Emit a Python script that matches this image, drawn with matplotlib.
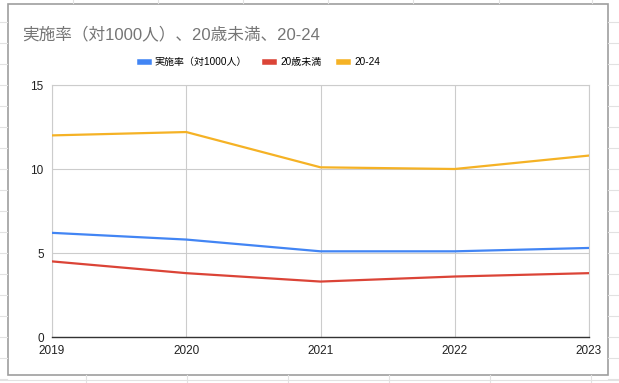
import matplotlib
matplotlib.use("Agg")
import matplotlib.pyplot as plt
from matplotlib.lines import Line2D
from matplotlib.patches import Rectangle

plt.rcParams['font.family'] = ['Liberation Sans', 'Noto Sans CJK JP', 'DejaVu Sans']

years = [2019, 2020, 2021, 2022, 2023]
rate_total = [6.2, 5.8, 5.1, 5.1, 5.3]
under20 = [4.5, 3.8, 3.3, 3.6, 3.8]
age20_24 = [12.0, 12.2, 10.1, 10.0, 10.8]
series_names = ["実施率（対1000人）", "20歳未満", "20-24"]
colors = ["#4285F4", "#DB4437", "#F5B225"]
title = "実施率（対1000人）、20歳未満、20-24"

W, H = 619, 383
fig = plt.figure(figsize=(W / 100, H / 100), dpi=100)

def px(x, y):
    return x / W, 1 - y / H

# spreadsheet background grid (outside chart)
gcol = "#e2e2e2"
for y in range(22, 383, 21):
    for (x0, x1) in [(0, 7), (608, 619)]:
        (a, b), (c, d) = px(x0, y), px(x1, y)
        fig.add_artist(Line2D([a, c], [b, b], color=gcol, lw=0.8))
for x in [73, 158, 243, 328, 413, 499, 592]:
    (a, b), (c, d) = px(x, 0), px(x, 3)
    fig.add_artist(Line2D([a, a], [b, d], color=gcol, lw=0.8))
for x in [86, 187, 288, 389, 490, 591]:
    (a, b), (c, d) = px(x, 375), px(x, 383)
    fig.add_artist(Line2D([a, a], [b, d], color=gcol, lw=0.8))
(a, b) = px(0, 380)
fig.add_artist(Line2D([0, 1], [b, b], color=gcol, lw=0.8))

# chart frame
x0, y0 = px(7.5, 375)
x1, y1 = px(608, 3.5)
fig.add_artist(Rectangle((x0, y0), x1 - x0, y1 - y0, transform=fig.transFigure,
                         facecolor="white", edgecolor="#9e9e9e", lw=1.2, zorder=0))

ax = fig.add_axes([52 / W, 1 - 337 / H, (589 - 52) / W, (337 - 85) / H])
ax.set_facecolor("none")
for vals, name, c in zip([rate_total, under20, age20_24], series_names, colors):
    ax.plot(years, vals, color=c, lw=1.6, label=name, zorder=3)

ax.set_xlim(2019, 2023)
ax.set_ylim(0, 15)
ax.set_xticks(years)
ax.set_yticks([0, 5, 10, 15])
ax.grid(True, color="#cccccc", lw=0.8)
for s in ["top", "right", "left"]:
    ax.spines[s].set_color("#cccccc")
    ax.spines[s].set_linewidth(0.8)
ax.spines["bottom"].set_color("#333333")
ax.spines["bottom"].set_linewidth(1.0)
ax.tick_params(length=0, labelsize=8.5, colors="#222222")
ax.tick_params(axis="y", pad=6)
ax.tick_params(axis="x", pad=6)

fig.text(22 / W, 1 - 34 / H, title, fontsize=12, color="#757575", va="center", ha="left")

handles = [Line2D([0], [0], color=c, lw=4) for c in colors]
fig.legend(handles, series_names, loc="center", bbox_to_anchor=(260 / W, 1 - 62 / H),
           ncol=3, frameon=False, fontsize=7.2, handlelength=0.9, columnspacing=1.8,
           handletextpad=0.6)

fig.savefig("out.png", dpi=100)
